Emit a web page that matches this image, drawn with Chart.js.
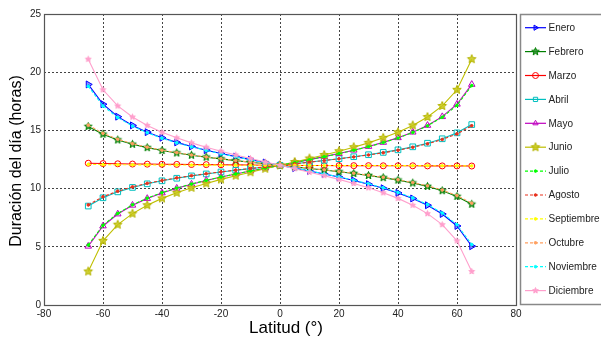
<!DOCTYPE html>
<html>
<head>
<meta charset="utf-8">
<script src="https://cdn.jsdelivr.net/npm/chart.js@4"></script>
<style>
  html, body { margin: 0; padding: 0; background: #fff; }
</style>
</head>
<body>
<canvas id="grafico" width="601" height="339"></canvas>
<script>
// Datos
const latitudes = [-65, -60, -55, -50, -45, -40, -35, -30, -25, -20, -15, -10, -5, 0,
  5, 10, 15, 20, 25, 30, 35, 40, 45, 50, 55, 60, 65];

const meses = ["Enero", "Febrero", "Marzo", "Abril", "Mayo", "Junio", "Julio",
  "Agosto", "Septiembre", "Octubre", "Noviembre", "Diciembre"];

const enero = [18.95, 17.25, 16.18, 15.43, 14.85, 14.37, 13.97, 13.62, 13.30, 13.01, 12.75, 12.49, 12.24, 12.00,
  11.76, 11.51, 11.25, 10.99, 10.70, 10.38, 10.03, 9.63, 9.15, 8.57, 7.82, 6.79, 5.05];
const febrero = [15.34, 14.67, 14.18, 13.81, 13.52, 13.27, 13.06, 12.87, 12.70, 12.55, 12.40, 12.27, 12.13, 12.00,
  11.87, 11.73, 11.60, 11.45, 11.30, 11.13, 10.94, 10.73, 10.48, 10.19, 9.82, 9.33, 8.66];
const marzo = [12.18, 12.15, 12.13, 12.11, 12.10, 12.09, 12.08, 12.07, 12.06, 12.05, 12.04, 12.03, 12.01, 12.00,
  11.99, 11.98, 11.98, 11.97, 11.97, 11.97, 11.96, 11.96, 11.96, 11.95, 11.95, 11.95, 11.94];
const abril = [8.50, 9.21, 9.72, 10.10, 10.41, 10.67, 10.89, 11.09, 11.26, 11.43, 11.58, 11.72, 11.86, 12.00,
  12.14, 12.28, 12.42, 12.57, 12.74, 12.91, 13.11, 13.33, 13.59, 13.90, 14.28, 14.79, 15.50];
const mayo = [5.05, 6.79, 7.82, 8.57, 9.15, 9.63, 10.03, 10.38, 10.70, 10.99, 11.25, 11.51, 11.76, 12.00,
  12.24, 12.49, 12.75, 13.01, 13.30, 13.62, 13.97, 14.37, 14.85, 15.43, 16.18, 17.25, 18.95];
const junio = [2.88, 5.51, 6.90, 7.85, 8.57, 9.16, 9.64, 10.07, 10.44, 10.79, 11.11, 11.41, 11.71, 12.00,
  12.29, 12.59, 12.89, 13.21, 13.56, 13.93, 14.36, 14.84, 15.43, 16.15, 17.10, 18.49, 21.12];
const julio = [5.15, 6.85, 7.87, 8.61, 9.18, 9.66, 10.05, 10.40, 10.71, 11.00, 11.26, 11.52, 11.76, 12.00,
  12.24, 12.48, 12.74, 13.00, 13.29, 13.60, 13.95, 14.34, 14.82, 15.39, 16.13, 17.15, 18.85];
const agosto = [8.60, 9.30, 9.78, 10.15, 10.45, 10.70, 10.92, 11.11, 11.28, 11.44, 11.59, 11.73, 11.87, 12.00,
  12.13, 12.27, 12.41, 12.56, 12.72, 12.89, 13.08, 13.30, 13.55, 13.85, 14.22, 14.70, 15.40];
const septiembre = [12.08, 12.06, 12.05, 12.04, 12.04, 12.03, 12.03, 12.02, 12.02, 12.01, 12.01, 12.00, 12.00, 12.00,
  12.00, 11.99, 11.99, 11.99, 11.98, 11.98, 11.98, 11.97, 11.97, 11.97, 11.96, 11.96, 11.95];
const octubre = [15.45, 14.75, 14.24, 13.86, 13.56, 13.30, 13.09, 12.89, 12.72, 12.56, 12.41, 12.27, 12.14, 12.01,
  11.88, 11.74, 11.61, 11.47, 11.32, 11.15, 10.97, 10.76, 10.52, 10.24, 9.88, 9.40, 8.75];
const noviembre = [18.80, 17.10, 16.10, 15.37, 14.80, 14.33, 13.93, 13.59, 13.28, 12.99, 12.73, 12.48, 12.24, 12.00,
  11.76, 11.52, 11.27, 11.01, 10.72, 10.41, 10.07, 9.67, 9.20, 8.63, 7.90, 6.90, 5.20];
const diciembre = [21.12, 18.49, 17.10, 16.15, 15.43, 14.84, 14.36, 13.93, 13.56, 13.21, 12.89, 12.59, 12.29, 12.00,
  11.71, 11.41, 11.11, 10.79, 10.44, 10.07, 9.64, 9.16, 8.57, 7.85, 6.90, 5.51, 2.88];

const xTicks = [-80, -60, -40, -20, 0, 20, 40, 60, 80];
const yTicks = [0, 5, 10, 15, 20, 25];

// estrella de cinco puntas (pentagram de matlab)
function estrella(color, r, relleno) {
  const c = document.createElement("canvas");
  const s = Math.ceil(2 * r + 3);
  c.width = s;
  c.height = s;
  const g = c.getContext("2d");
  g.beginPath();
  for (let i = 0; i < 10; i++) {
    const a = -Math.PI / 2 + i * Math.PI / 5;
    const rr = i % 2 ? r * 0.45 : r;
    g.lineTo(s / 2 + rr * Math.cos(a), s / 2 + rr * Math.sin(a));
  }
  g.closePath();
  g.fillStyle = relleno;
  g.fill();
  g.strokeStyle = color;
  g.lineWidth = 1;
  g.stroke();
  return c;
}

const valores = [enero, febrero, marzo, abril, mayo, junio, julio, agosto, septiembre, octubre, noviembre, diciembre];
const colores = ["#0000ff", "#008000", "#ff0000", "#00bfbf", "#bf00bf", "#bfbf00", "#00ff00",
  "#e8301c", "#ffff00", "#ffa060", "#00ffff", "#ff9fcc"];

const estilos = [
  { pointStyle: "triangle", rotation: 90, pointRadius: 4, relleno: "rgba(0,0,255,0.45)" },
  { pointStyle: estrella("#008000", 4, "rgba(40,140,40,0.85)") },
  { pointStyle: "circle", pointRadius: 3 },
  { pointStyle: "rect", pointRadius: 4 },
  { pointStyle: "triangle", pointRadius: 3.8 },
  { pointStyle: estrella("#b4b400", 4.5, "rgba(200,200,20,0.85)") },
  { pointStyle: "circle", pointRadius: 1.3, dash: true, fill: true },
  { pointStyle: "circle", pointRadius: 1.3, dash: true, fill: true },
  { pointStyle: "circle", pointRadius: 1.3, dash: true, fill: true },
  { pointStyle: "circle", pointRadius: 1.3, dash: true, fill: true },
  { pointStyle: "circle", pointRadius: 1.3, dash: true, fill: true },
  { pointStyle: estrella("#ff9fcc", 3, "#ff9fcc") },
];

const datasets = meses.map((mes, i) => ({
  label: mes,
  data: latitudes.map((lat, j) => ({ x: lat, y: valores[i][j] })),
  borderColor: colores[i],
  backgroundColor: estilos[i].fill ? colores[i] : "rgba(0,0,0,0)",
  borderWidth: 1.1,
  borderDash: estilos[i].dash ? [3, 2] : [],
  pointStyle: estilos[i].pointStyle,
  rotation: estilos[i].rotation || 0,
  pointRadius: estilos[i].pointRadius || 4,
  pointBorderWidth: 1,
  pointBorderColor: colores[i],
  pointBackgroundColor: estilos[i].fill ? colores[i] : (estilos[i].relleno || "rgba(0,0,0,0)"),
  tension: 0,
  order: 12 - i,
}));

const fuente = "'Liberation Sans', Arial, sans-serif";

const marcoYLeyenda = {
  id: "marcoYLeyenda",
  afterDraw(chart) {
    const ctx = chart.ctx;
    const a = chart.chartArea;
    ctx.save();
    // caja de los ejes
    ctx.setLineDash([]);
    ctx.strokeStyle = "#555";
    ctx.lineWidth = 1.2;
    ctx.strokeRect(a.left + 0.5, a.top + 0.5, a.right - a.left, a.bottom - a.top);

    // titulos
    ctx.fillStyle = "#000";
    ctx.textAlign = "center";
    ctx.textBaseline = "middle";
    ctx.font = "17px " + fuente;
    ctx.fillText("Latitud (°)", 286, 328);
    ctx.save();
    ctx.translate(17, 161);
    ctx.rotate(-Math.PI / 2);
    ctx.font = "16px " + fuente;
    ctx.fillText("Duración del día (horas)", 0, 0);
    ctx.restore();

    // leyenda
    ctx.strokeStyle = "#888";
    ctx.lineWidth = 1.5;
    ctx.strokeRect(520.5, 14.5, 90, 290);
    ctx.font = "10px " + fuente;
    ctx.textAlign = "left";
    chart.data.datasets.forEach((ds, i) => {
      const y = 27.7 + i * 23.9;
      ctx.strokeStyle = ds.borderColor;
      ctx.lineWidth = 1.2;
      ctx.setLineDash(ds.borderDash);
      ctx.beginPath();
      ctx.moveTo(525, y);
      ctx.lineTo(546, y);
      ctx.stroke();
      ctx.setLineDash([]);
      if (Chart.helpers && Chart.helpers.drawPoint) {
        ctx.fillStyle = ds.pointBackgroundColor;
        ctx.strokeStyle = ds.borderColor;
        ctx.lineWidth = 1;
        Chart.helpers.drawPoint(ctx, {
          pointStyle: ds.pointStyle,
          rotation: ds.rotation,
          radius: Math.min(ds.pointRadius, 3),
          borderWidth: 1,
        }, 535.5, y);
      }
      ctx.fillStyle = "#222";
      ctx.fillText(ds.label, 548.5, y + 0.5);
    });
    ctx.restore();
  },
};

const grafico = new Chart(document.getElementById("grafico"), {
  type: "line",
  data: { datasets: datasets },
  plugins: [marcoYLeyenda],
  options: {
    responsive: false,
    animation: false,
    layout: { padding: { left: 0, top: 14, right: 85, bottom: 0 } },
    plugins: { legend: { display: false }, tooltip: { enabled: false } },
    scales: {
      x: {
        type: "linear",
        min: -80,
        max: 80,
        afterBuildTicks: (scale) => { scale.ticks = xTicks.map((v) => ({ value: v })); },
        afterFit: (scale) => { scale.height = 34; },
        border: { display: false, dash: [2, 2] },
        grid: { color: "#444", lineWidth: 1, drawTicks: false },
        ticks: { color: "#222", font: { family: fuente, size: 10 }, padding: 3, maxRotation: 0 },
      },
      y: {
        min: 0,
        max: 25,
        afterBuildTicks: (scale) => { scale.ticks = yTicks.map((v) => ({ value: v })); },
        afterFit: (scale) => { scale.width = 44; },
        border: { display: false, dash: [2, 2] },
        grid: { color: "#444", lineWidth: 1, drawTicks: false },
        ticks: { color: "#222", font: { family: fuente, size: 10 }, padding: 3 },
      },
    },
  },
});
</script>
</body>
</html>
